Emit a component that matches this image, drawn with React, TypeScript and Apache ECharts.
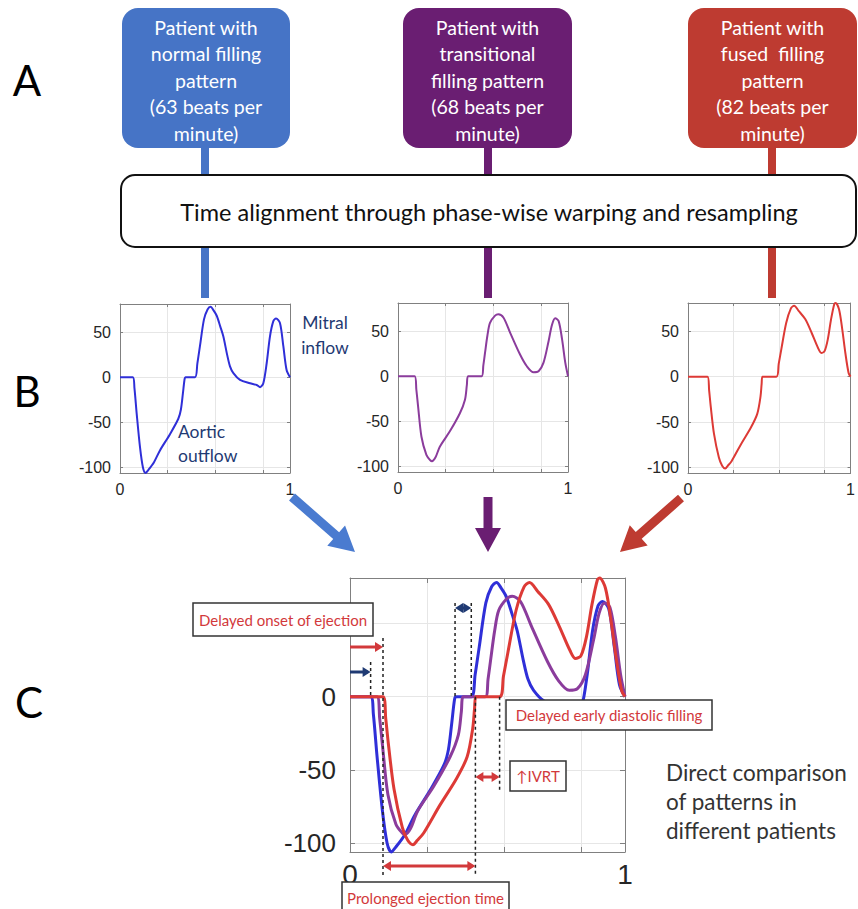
import React, { useEffect, useRef } from 'react';
import * as echarts from 'echarts';

// ---------------- data ----------------
// normalised time within one cardiac cycle and flow velocity (cm/s)
const blueTime = [0, 0.075, 0.085, 0.098, 0.118, 0.135, 0.15, 0.165, 0.2, 0.235, 0.294, 0.343, 0.358, 0.37, 0.38, 0.385, 0.441, 0.455, 0.47, 0.494, 0.515, 0.533, 0.55, 0.569, 0.59, 0.608, 0.63, 0.647, 0.667, 0.706, 0.765, 0.804, 0.824, 0.843, 0.863, 0.882, 0.902, 0.918, 0.941, 0.961, 0.98, 1];
const blueVel = [0, 0, -12, -40, -78, -100, -106, -103, -94, -81, -63, -46, -36, -18, -2, 0, 0, 15, 34, 64, 75, 78, 74, 68, 56, 45, 25, 12, 4.5, -3, -6.7, -8.6, -11, -6.7, 15.7, 45, 62, 65, 60, 34, 8, 0];

const purpleTime = [0, 0.098, 0.108, 0.118, 0.138, 0.167, 0.19, 0.2, 0.22, 0.246, 0.305, 0.364, 0.394, 0.405, 0.412, 0.492, 0.502, 0.512, 0.526, 0.541, 0.571, 0.59, 0.62, 0.66, 0.718, 0.758, 0.797, 0.827, 0.856, 0.886, 0.906, 0.925, 0.945, 0.965, 0.984, 1];
const purpleVel = [0, 0, -15, -33, -67, -87, -93, -94, -90, -78, -61, -41, -26, -10, 0, 0, 12, 26, 45, 59, 67, 68.5, 65, 48, 24, 11, 4.4, 5.5, 15, 39, 57, 64, 61, 41, 15, 0];

const redTime = [0, 0.12, 0.13, 0.14, 0.16, 0.19, 0.21, 0.229, 0.245, 0.268, 0.327, 0.387, 0.426, 0.446, 0.453, 0.458, 0.544, 0.558, 0.574, 0.604, 0.633, 0.653, 0.682, 0.722, 0.761, 0.8, 0.82, 0.84, 0.86, 0.88, 0.9, 0.908, 0.929, 0.949, 0.968, 0.988, 1];
const redVel = [0, 0, -15, -33, -63, -89, -98, -101, -98, -93, -74, -56, -41, -22, -8, 0, 0, 14, 30, 59, 75, 78, 72, 63, 48, 31.5, 26, 28, 41, 63, 80, 81, 74, 52, 26, 4, 0];

// event times used by the annotations in panel C
const onsetBlue = 0.075;
const onsetRed = 0.12;
const ivStartBlue = 0.382;
const ivEndBlue = 0.441;
const ejectEndRed = 0.456;
const fillStartRed = 0.544;

// axis extents / ticks
const timeRange = [0, 1];
const timeTickStep = 0.28;
const velRange = [-106, 81];
const velLabelsB = [-100, -50, 0, 50];
const velLabelsC = [-100, -50, 0]; // the 50 label is hidden behind an annotation in the figure

// texts
const patientLabels = [
  'Patient with\nnormal filling\npattern\n(63 beats per\nminute)',
  'Patient with\ntransitional\nfilling pattern\n(68 beats per\nminute)',
  'Patient with\nfused  filling\npattern\n(82 beats per\nminute)',
];
const alignText = 'Time alignment through phase-wise warping and resampling';
const panelLetters = ['A', 'B', 'C'];

const BLUE = '#2F2FD8';
const PURPLE = '#8B3C9C';
const RED = '#DD3A36';
const NAVY = '#1F3A73';
const ANN_RED = '#D2393B';
const UI_FONT = 'Lato, "Open Sans", sans-serif';
const AX_FONT = '"Liberation Sans", Arial, sans-serif';

const zip = (t: number[], v: number[]) => t.map((x, i) => [x, v[i]]);

const panels = [
  { grid: { left: 120, top: 304, width: 170, height: 169 }, big: false },
  { grid: { left: 398, top: 303, width: 170, height: 169 }, big: false },
  { grid: { left: 688, top: 303, width: 169, height: 170 }, big: false },
  { grid: { left: 350, top: 578, width: 275, height: 274 }, big: true },
];

function buildOption() {
  const frame = '#808080';
  const xAxis: any[] = [];
  const yAxis: any[] = [];
  panels.forEach((p, i) => {
    const fs = p.big ? 26 : 16;
    const xfs = p.big ? 28 : 16;
    const shown = p.big ? velLabelsC : velLabelsB;
    xAxis.push({
      gridIndex: i, type: 'value', min: timeRange[0], max: timeRange[1], interval: timeTickStep,
      position: 'bottom',
      axisLine: { show: true, onZero: false, lineStyle: { color: frame, width: 1 } },
      axisTick: { show: true, inside: true, length: p.big ? 5 : 3, lineStyle: { color: frame } },
      splitLine: { show: true, lineStyle: { color: '#e6e6e6', width: 1 } },
      axisLabel: {
        show: true, showMinLabel: true, showMaxLabel: true,
        formatter: (v: number) => (v === timeRange[0] ? String(timeRange[0]) : v === timeRange[1] ? String(timeRange[1]) : ''),
        fontSize: xfs, color: '#262626', fontFamily: AX_FONT, margin: 8,
      },
    });
    xAxis.push({
      gridIndex: i, type: 'value', min: timeRange[0], max: timeRange[1], interval: timeTickStep,
      position: 'top',
      axisLine: { show: true, onZero: false, lineStyle: { color: frame, width: 1 } },
      axisTick: { show: true, inside: true, length: p.big ? 5 : 3, lineStyle: { color: frame } },
      splitLine: { show: false },
      axisLabel: { show: false },
    });
    yAxis.push({
      gridIndex: i, type: 'value', min: velRange[0], max: velRange[1], splitNumber: 4,
      position: 'left',
      axisLine: { show: true, onZero: false, lineStyle: { color: frame, width: 1 } },
      axisTick: { show: true, inside: true, length: p.big ? 5 : 3, lineStyle: { color: frame } },
      splitLine: { show: true, lineStyle: { color: '#e6e6e6', width: 1 } },
      axisLabel: {
        formatter: (v: number) => (shown.some((s) => Math.abs(s - v) < 1e-6) ? String(v) : ''),
        fontSize: fs, color: '#262626', fontFamily: AX_FONT, margin: p.big ? 14 : 9,
        showMinLabel: true, showMaxLabel: true,
      },
    });
    yAxis.push({
      gridIndex: i, type: 'value', min: velRange[0], max: velRange[1], splitNumber: 4,
      position: 'right',
      axisLine: { show: true, onZero: false, lineStyle: { color: frame, width: 1 } },
      axisTick: { show: true, inside: true, length: p.big ? 5 : 3, lineStyle: { color: frame } },
      splitLine: { show: false },
      axisLabel: { show: false },
    });
  });

  const mk = (data: number[][], color: string, idx: number, width: number) => ({
    type: 'line', xAxisIndex: idx * 2, yAxisIndex: idx * 2, data,
    symbol: 'none', showSymbol: false, smooth: 0.3, clip: false,
    lineStyle: { color, width }, z: 3,
  });

  const blue = zip(blueTime, blueVel);
  const purple = zip(purpleTime, purpleVel);
  const red = zip(redTime, redVel);

  return {
    animation: false,
    backgroundColor: '#ffffff',
    grid: panels.map((p) => ({ ...p.grid })),
    xAxis,
    yAxis,
    series: [
      mk(blue, BLUE, 0, 2),
      mk(purple, PURPLE, 1, 2),
      mk(red, RED, 2, 2),
      mk(blue, BLUE, 3, 3),
      mk(purple, PURPLE, 3, 3),
      mk(red, RED, 3, 3),
    ],
  };
}

function bigArrow(x1: number, y1: number, x2: number, y2: number, shaftW: number, headL: number, headW: number) {
  const dx = x2 - x1, dy = y2 - y1, L = Math.hypot(dx, dy);
  const ux = dx / L, uy = dy / L, nx = -uy, ny = ux;
  const bx = x2 - ux * headL, by = y2 - uy * headL;
  return [
    [x1 + nx * shaftW / 2, y1 + ny * shaftW / 2],
    [bx + nx * shaftW / 2, by + ny * shaftW / 2],
    [bx + nx * headW / 2, by + ny * headW / 2],
    [x2, y2],
    [bx - nx * headW / 2, by - ny * headW / 2],
    [bx - nx * shaftW / 2, by - ny * shaftW / 2],
    [x1 - nx * shaftW / 2, y1 - ny * shaftW / 2],
  ];
}

function hArrow(x1: number, x2: number, y: number, color: string, both: boolean) {
  const hl = 8, hw = 5;
  const els: any[] = [
    { type: 'line', z: 12, shape: { x1: both ? x1 + 3 : x1, y1: y, x2: x2 - 3, y2: y }, style: { stroke: color, lineWidth: 3 } },
    { type: 'polygon', z: 12, shape: { points: [[x2, y], [x2 - hl, y - hw], [x2 - hl, y + hw]] }, style: { fill: color } },
  ];
  if (both) {
    els.push({ type: 'polygon', z: 12, shape: { points: [[x1, y], [x1 + hl, y - hw], [x1 + hl, y + hw]] }, style: { fill: color } });
  }
  return els;
}

function vDotted(x: number, y1: number, y2: number) {
  return { type: 'line', z: 11, shape: { x1: x, y1, x2: x, y2 }, style: { stroke: '#222', lineWidth: 1.5, lineDash: [3, 3] } };
}

function boxLabel(x: number, y: number, w: number, h: number, t: string, fs = 15) {
  return [
    { type: 'rect', z: 13, shape: { x, y, width: w, height: h }, style: { fill: '#fff', stroke: '#333', lineWidth: 1.5 } },
    { type: 'text', z: 14, x: x + w / 2, y: y + h / 2, style: { text: t, fill: ANN_RED, fontSize: fs, fontFamily: UI_FONT, align: 'center', verticalAlign: 'middle' } },
  ];
}

function buildGraphic(toPx: (t: number, v: number) => number[]) {
  const g: any[] = [];
  const boxColors = ['#4674C6', '#6A1E72', '#BE3B31'];
  const boxes = [
    { x: 122, w: 168, lineX: 201 },
    { x: 403, w: 169, lineX: 484 },
    { x: 688, w: 169, lineX: 768 },
  ];
  boxes.forEach((b, i) => {
    g.push({ type: 'rect', z: 1, shape: { x: b.lineX, y: 140, width: 8, height: 158 }, style: { fill: boxColors[i] } });
    g.push({ type: 'rect', z: 2, shape: { x: b.x, y: 8, width: b.w, height: 140, r: 16 }, style: { fill: boxColors[i] } });
    g.push({
      type: 'text', z: 3, x: b.x + b.w / 2, y: 80,
      style: { text: patientLabels[i], fill: '#ffffff', fontSize: 19.5, fontFamily: UI_FONT, align: 'center', verticalAlign: 'middle', lineHeight: 26.5 },
    });
  });
  // alignment box
  g.push({ type: 'rect', z: 4, shape: { x: 121, y: 175, width: 735, height: 72, r: 14 }, style: { fill: '#ffffff', stroke: '#111', lineWidth: 2 } });
  g.push({ type: 'text', z: 5, x: 489, y: 212, style: { text: alignText, fill: '#111', fontSize: 23.5, fontFamily: UI_FONT, align: 'center', verticalAlign: 'middle' } });

  // panel letters
  const letterPos = [[27, 80], [27, 391], [29, 702]];
  panelLetters.forEach((L, i) => {
    g.push({ type: 'text', z: 5, x: letterPos[i][0], y: letterPos[i][1], style: { text: L, fill: '#000', fontSize: 42, fontFamily: UI_FONT, align: 'center', verticalAlign: 'middle' } });
  });

  // B labels
  g.push({ type: 'text', z: 10, x: 325, y: 335, style: { text: 'Mitral\ninflow', fill: NAVY, fontSize: 17.5, fontFamily: UI_FONT, align: 'center', verticalAlign: 'middle', lineHeight: 25 } });
  g.push({ type: 'text', z: 10, x: 178, y: 443, style: { text: 'Aortic\noutflow', fill: NAVY, fontSize: 17.5, fontFamily: UI_FONT, align: 'left', verticalAlign: 'middle', lineHeight: 24 } });

  // big arrows to panel C
  g.push({ type: 'polygon', z: 5, shape: { points: bigArrow(292, 497, 355, 552, 9, 25, 27) }, style: { fill: '#4A7BD0' } });
  g.push({ type: 'polygon', z: 5, shape: { points: bigArrow(488, 497, 488, 552, 9, 24, 26) }, style: { fill: '#6A1E72' } });
  g.push({ type: 'polygon', z: 5, shape: { points: bigArrow(681, 498, 620, 552, 9, 25, 27) }, style: { fill: '#BE3B31' } });

  // panel C annotations (x from event times through the axis scale)
  const xp = (t: number) => toPx(t, 0)[0];
  const y0 = toPx(0, 0)[1];
  const x0 = toPx(0, 0)[0];
  const xOB = xp(onsetBlue), xOR = xp(onsetRed), xIS = xp(ivStartBlue), xIE = xp(ivEndBlue);
  const xEE = xp(ejectEndRed), xFS = xp(fillStartRed);

  g.push(vDotted(xOB, 662, y0));
  g.push(vDotted(xOR, 638, 876));
  g.push(vDotted(xIS, 603, y0));
  g.push(vDotted(xIE, 603, y0));
  g.push(vDotted(xEE, y0, 876));
  g.push(vDotted(xFS, y0, 790));

  g.push(...hArrow(x0, xOR, 647, ANN_RED, false));
  g.push(...hArrow(x0, xOB, 672, NAVY, false));
  g.push(...hArrow(xIS, xIE, 608, NAVY, true));
  g.push(...hArrow(xEE, xFS, 777, ANN_RED, true));
  g.push(...hArrow(xOR, xEE, 866, ANN_RED, true));

  g.push(...boxLabel(193, 603, 180, 33, 'Delayed onset of ejection', 15));
  g.push(...boxLabel(506, 700, 206, 30, 'Delayed early diastolic filling', 15));
  g.push(...boxLabel(510, 761, 56, 30, '↑IVRT', 15));
  g.push(...boxLabel(342, 882, 167, 32, 'Prolonged ejection time', 15));

  g.push({ type: 'text', z: 10, x: 666, y: 801, style: { text: 'Direct comparison\nof patterns in\ndifferent patients', fill: '#333', fontSize: 22.5, fontFamily: UI_FONT, align: 'left', verticalAlign: 'middle', lineHeight: 29 } });
  return g;
}

export default function App() {
  const ref = useRef<HTMLDivElement>(null);
  useEffect(() => {
    const el = ref.current;
    if (!el) return;
    const chart = echarts.init(el, null, { renderer: 'svg' });
    chart.setOption(buildOption() as any);
    const toPx = (t: number, v: number) => chart.convertToPixel({ seriesIndex: 3 }, [t, v]) as unknown as number[];
    chart.setOption({ graphic: buildGraphic(toPx) } as any);
    return () => chart.dispose();
  }, []);
  return <div ref={ref} style={{ position: 'absolute', left: 0, top: 0, width: 858, height: 909, background: '#fff' }} />;
}
